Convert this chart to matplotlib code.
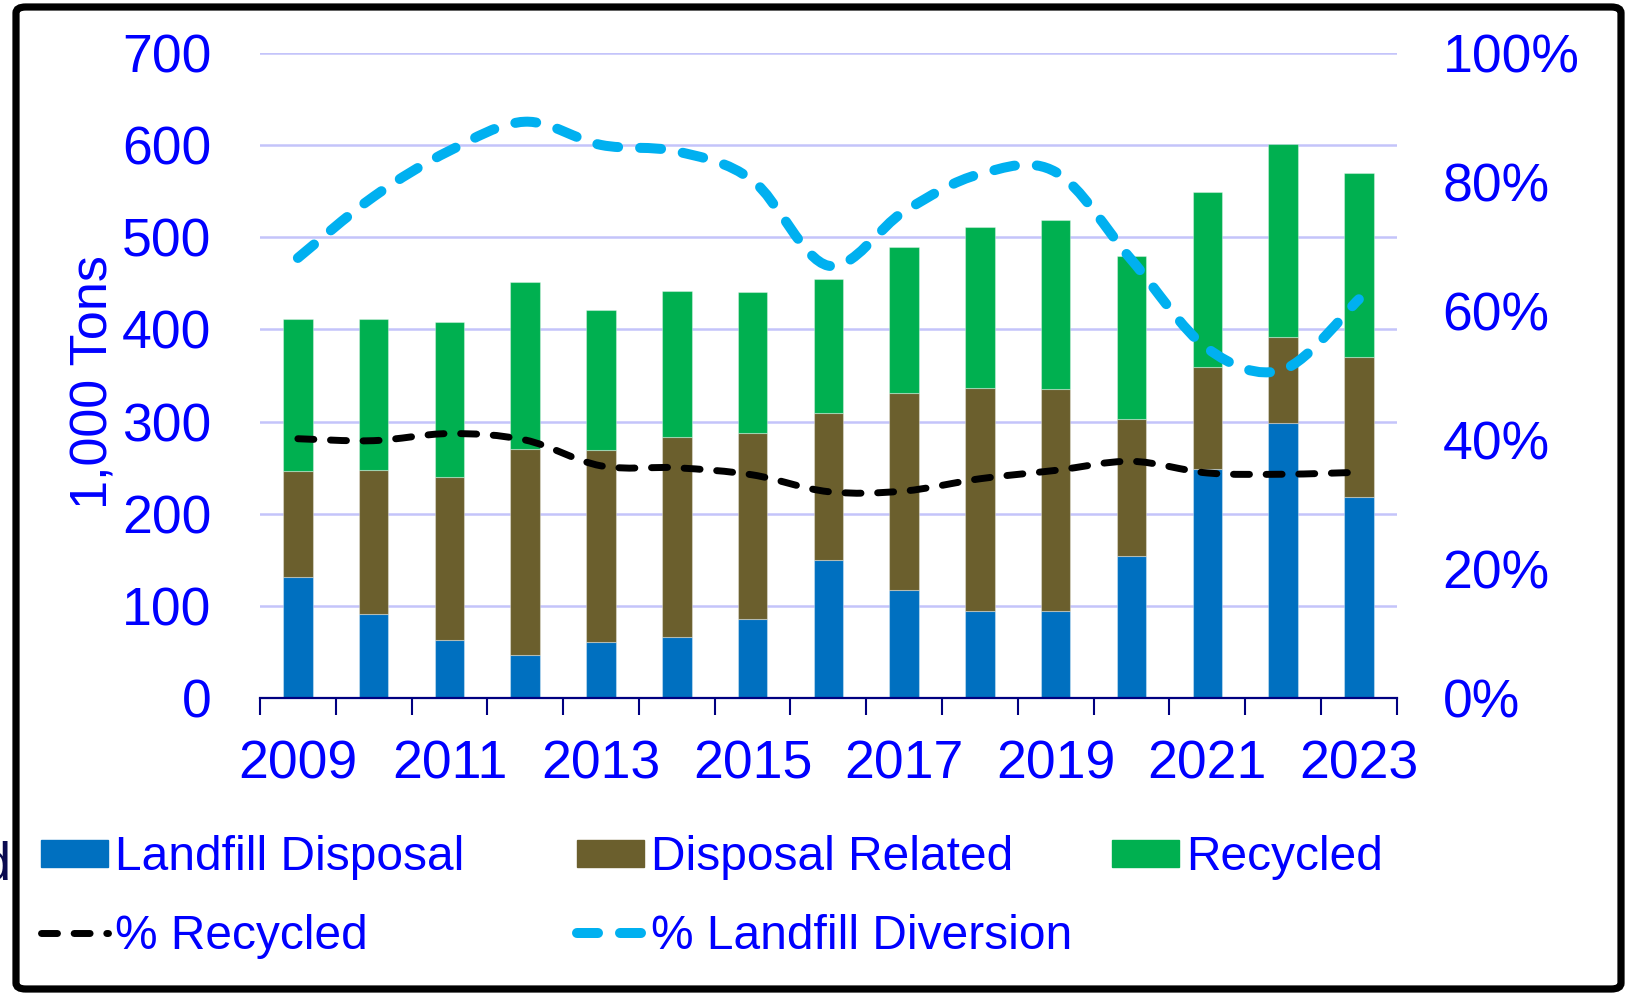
import numpy as np
import matplotlib.pyplot as plt
from matplotlib.path import Path
from matplotlib.patches import PathPatch, Patch, FancyBboxPatch
from matplotlib.lines import Line2D
from matplotlib.ticker import PercentFormatter

plt.rcParams['font.family'] = ['Liberation Sans', 'DejaVu Sans']

# data (1,000 tons and percent)
years = [2009, 2010, 2011, 2012, 2013, 2014, 2015, 2016, 2017, 2018, 2019, 2020, 2021, 2022, 2023]
landfill_disposal = [131, 91, 63, 47, 61, 66, 86, 150, 117, 95, 95, 154, 249, 298, 218]
disposal_related = [115, 156, 177, 223, 208, 217, 202, 159, 214, 241, 240, 149, 110, 94, 152]
recycled = [165, 164, 168, 181, 152, 159, 153, 146, 158, 175, 183, 176, 190, 209, 200]
pct_recycled = [40.2, 39.9, 41.0, 40.0, 36.0, 35.7, 34.6, 32.0, 32.1, 34.0, 35.3, 36.7, 34.9, 34.7, 35.0]
pct_diversion = [68.2, 77.7, 84.8, 89.3, 85.7, 84.7, 80.2, 67.0, 75.4, 81.2, 81.5, 67.9, 54.2, 50.9, 61.8]
year_labels = [str(y) if i % 2 == 0 else '' for i, y in enumerate(years)]

BLUE, BROWN, GREEN = '#0070C0', '#6B5F2D', '#00B050'
CYAN, TXT, NAVY = '#00B0F0', '#0000FF', '#000080'


def smooth_path(xs, ys):
    # Excel-style smoothed line: Catmull-Rom turned into cubic Bezier pieces
    pts = np.column_stack([xs, ys]).astype(float)
    n = len(pts)
    verts, codes = [pts[0]], [Path.MOVETO]
    for i in range(n - 1):
        p0, p1 = pts[max(i - 1, 0)], pts[i]
        p2, p3 = pts[i + 1], pts[min(i + 2, n - 1)]
        verts += [p1 + (p2 - p0) / 6, p2 - (p3 - p1) / 6, p2]
        codes += [Path.CURVE4] * 3
    return Path(verts, codes)


fig = plt.figure(figsize=(16.3, 9.93), dpi=100)
ax = fig.add_axes([0.1595, 0.2968, 0.6974, 0.6502])
x = np.arange(len(years))

edge = (1, 1, 1, 0.35)
ax.bar(x, landfill_disposal, 0.39, color=BLUE, edgecolor=edge, lw=0.8, zorder=2)
bottom2 = np.array(landfill_disposal)
ax.bar(x, disposal_related, 0.39, bottom=bottom2, color=BROWN, edgecolor=edge, lw=0.8, zorder=2)
bottom3 = bottom2 + np.array(disposal_related)
ax.bar(x, recycled, 0.39, bottom=bottom3, color=GREEN, edgecolor=edge, lw=0.8, zorder=2)

ax.set_xlim(-0.5, len(years) - 0.5)
ax.set_ylim(0, 700)
ax.set_yticks(range(0, 701, 100))
ax.yaxis.grid(True, color='#C4C4FA', lw=1.8)
ax.set_axisbelow(True)
for s in ['left', 'right', 'top']:
    ax.spines[s].set_visible(False)
ax.spines['bottom'].set_color(NAVY)
ax.spines['bottom'].set_linewidth(1.6)

# tick marks between categories, labels under every other bar
ax.set_xticks(np.arange(-0.5, len(years), 1.0))
ax.set_xticklabels([])
ax.set_xticks(x, minor=True)
ax.set_xticklabels(year_labels, minor=True)
ax.tick_params(axis='x', which='major', length=12, width=1.5, color=NAVY)
ax.tick_params(axis='x', which='minor', length=0, pad=30, labelsize=38.5, labelcolor=TXT)
ax.tick_params(axis='y', length=0, pad=35, labelsize=38.5, labelcolor=TXT)

ax.set_ylabel('1,000 Tons', fontsize=37.5, color=TXT)
ax.yaxis.set_label_coords(-0.1245, 0.49)

ax2 = ax.twinx()
ax2.set_ylim(0, 100)
ax2.set_yticks(range(0, 101, 20))
ax2.yaxis.set_major_formatter(PercentFormatter(decimals=0))
ax2.tick_params(axis='y', length=0, pad=33, labelsize=38.5, labelcolor=TXT)
for s in ax2.spines.values():
    s.set_visible(False)

ax2.add_patch(PathPatch(smooth_path(x, pct_recycled), fill=False, ec='black', lw=5,
                        linestyle=(0, (2.3, 2.4)), capstyle='round', joinstyle='round', zorder=3))
ax2.add_patch(PathPatch(smooth_path(x, pct_diversion), fill=False, ec=CYAN, lw=7.2,
                        linestyle=(0, (2.1, 2.2)), capstyle='round', joinstyle='round', zorder=3))

# legend, laid out in three columns like the original
h_ld = Patch(color=BLUE)
h_dr = Patch(color=BROWN)
h_rc = Patch(color=GREEN)
h_pr = Line2D([], [], color='black', lw=5, dashes=(2.3, 2.4), dash_capstyle='round')
h_pd = Line2D([], [], color=CYAN, lw=7.2, dashes=(2.1, 2.2), dash_capstyle='round')
columns = [
    ([h_ld, h_pr], ['Landfill Disposal', '% Recycled'], 41),
    ([h_dr, h_pd], ['Disposal Related', '% Landfill Diversion'], 577),
    ([h_rc], ['Recycled'], 1112),
]
for handles, labels, xpx in columns:
    leg = fig.legend(handles, labels, loc='upper left', bbox_to_anchor=(xpx / 1630, 1 - 835.5 / 993),
                     frameon=False, borderpad=0, borderaxespad=0, fontsize=34.5,
                     handlelength=1.4, handleheight=0.52, handletextpad=0.14, labelspacing=0.69)
    for t in leg.get_texts():
        t.set_color(TXT)

# clipped leftover letter at the far left edge
fig.text(11 / 1630, 1 - 880 / 993, 'd', ha='right', va='baseline', fontsize=39, color='#0A0A50')

fig.add_artist(FancyBboxPatch((16 / 1630, 4 / 993), 1605 / 1630, 982 / 993,
                              boxstyle='round,pad=0,rounding_size=0.006', transform=fig.transFigure,
                              fill=False, ec='black', lw=5.2))

fig.savefig('out.png', dpi=100)
